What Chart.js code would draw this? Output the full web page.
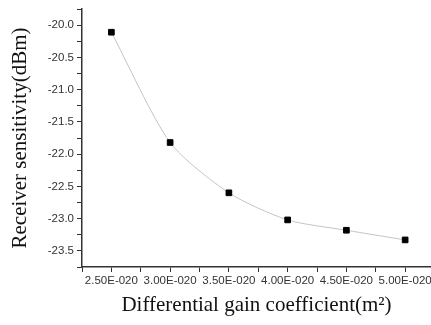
<!DOCTYPE html>
<html>
<head>
<meta charset="utf-8">
<script src="https://cdn.jsdelivr.net/npm/chart.js@4"></script>
<style>
  body { margin: 0; background: #fff; overflow: hidden; }
  canvas { display: block; }
</style>
</head>
<body>
<canvas id="myChart" width="431" height="325"></canvas>
<script>
'use strict';

// gain coefficient in units of 1E-020 m^2
var gainCoeff = [2.5, 3.0, 3.5, 4.0, 4.5, 5.0];
var sensitivity = [-20.11, -21.82, -22.60, -23.02, -23.18, -23.33];

var xTicks = [2.25, 2.5, 2.75, 3.0, 3.25, 3.5, 3.75, 4.0, 4.25, 4.5, 4.75, 5.0];
var xLabelTicks = [2.5, 3.0, 3.5, 4.0, 4.5, 5.0];
var yTicks = [-19.75, -20.0, -20.25, -20.5, -20.75, -21.0, -21.25, -21.5, -21.75, -22.0,
              -22.25, -22.5, -22.75, -23.0, -23.25, -23.5, -23.75];
var yLabelTicks = [-20.0, -20.5, -21.0, -21.5, -22.0, -22.5, -23.0, -23.5];

var points = [];
for (var i = 0; i < gainCoeff.length; i++) {
    points.push({x: gainCoeff[i], y: sensitivity[i]});
}

function isLabelled(list, v) {
    for (var i = 0; i < list.length; i++) {
        if (Math.abs(list[i] - v) < 1e-6) return true;
    }
    return false;
}

var axisColor = '#333';

var ctx = document.getElementById('myChart').getContext('2d');
var chart = new Chart(ctx, {
    type: 'scatter',
    data: {
        datasets: [{
            data: points,
            showLine: true,
            borderColor: '#c4c4c4',
            borderWidth: 1,
            tension: 0.25,
            pointStyle: 'rect',
            pointRadius: 4,
            pointBackgroundColor: '#000',
            pointBorderColor: '#000',
            pointBorderWidth: 1
        }]
    },
    options: {
        responsive: false,
        animation: false,
        layout: { autoPadding: false, padding: { top: 9, right: 0, left: 0, bottom: 0 } },
        plugins: {
            legend: { display: false },
            tooltip: { enabled: false }
        },
        scales: {
            x: {
                type: 'linear',
                min: 2.25,
                max: 5.22,
                afterBuildTicks: function (scale) {
                    scale.ticks = xTicks.map(function (v) { return {value: v}; });
                },
                afterFit: function (scale) {
                    scale.height = 58;
                    scale.paddingRight = 0;
                    scale.paddingLeft = 0;
                },
                border: { display: true, color: axisColor, width: 1.5 },
                grid: {
                    drawOnChartArea: false,
                    drawTicks: true,
                    tickLength: 5,
                    tickColor: axisColor,
                    tickWidth: 1
                },
                ticks: {
                    autoSkip: false,
                    maxRotation: 0,
                    padding: 2,
                    color: '#333',
                    font: { family: '"Liberation Sans", Arial, sans-serif', size: 11.5 },
                    callback: function (v) {
                        return isLabelled(xLabelTicks, v) ? v.toFixed(2) + 'E-020' : '';
                    }
                },
                title: {
                    display: true,
                    text: 'Differential gain coefficient(m\u00B2)',
                    color: '#111',
                    padding: { top: 0, bottom: 7 },
                    font: { family: '"Liberation Serif", "Times New Roman", serif', size: 21, lineHeight: 1.2 }
                }
            },
            y: {
                type: 'linear',
                min: -23.75,
                max: -19.75,
                afterBuildTicks: function (scale) {
                    scale.ticks = yTicks.map(function (v) { return {value: v}; });
                },
                afterFit: function (scale) {
                    scale.width = 82;
                    scale.paddingTop = 0;
                    scale.paddingBottom = 0;
                },
                border: { display: true, color: axisColor, width: 1.5 },
                grid: {
                    drawOnChartArea: false,
                    drawTicks: true,
                    tickLength: 5,
                    tickColor: axisColor,
                    tickWidth: 1
                },
                ticks: {
                    autoSkip: false,
                    padding: 3,
                    color: '#333',
                    font: { family: '"Liberation Sans", Arial, sans-serif', size: 11.5 },
                    callback: function (v) {
                        return isLabelled(yLabelTicks, v) ? v.toFixed(1) : '';
                    }
                },
                title: {
                    display: true,
                    text: 'Receiver sensitivity(dBm)',
                    color: '#111',
                    padding: { top: 8, bottom: 0 },
                    font: { family: '"Liberation Serif", "Times New Roman", serif', size: 21, lineHeight: 1.2 }
                }
            }
        }
    }
});
</script>
</body>
</html>
